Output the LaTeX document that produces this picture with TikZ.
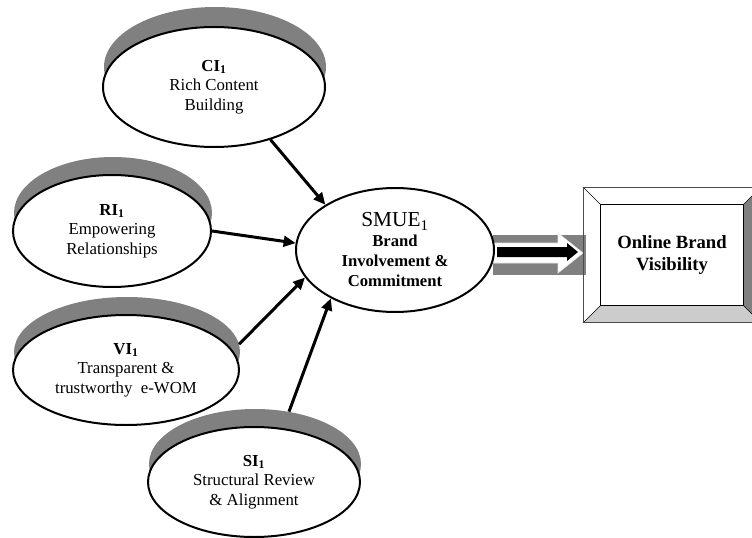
\documentclass[tikz,border=0pt]{standalone}
\usepackage{fontspec}
\setmainfont{Liberation Serif}
\usetikzlibrary{arrows.meta,shapes.geometric,calc}

\begin{document}
\begin{tikzpicture}[x=0.75pt,y=-0.75pt,
  factor/.style={draw,line width=1.5pt,shape=ellipse,fill=white,align=center,inner sep=0pt,font=\fontsize{12.6}{14.6}\selectfont},
  rim/.style={shape=ellipse,fill=black!50,inner sep=0pt},
  ellsize/.style 2 args={minimum width=#1*1.5pt,minimum height=#2*1.5pt},
  link/.style={line width=2.25pt,-{Triangle[length=9pt,width=8pt]}},
  bevel/.style={minimum width=132pt,minimum height=100.5pt,align=center,inner sep=0pt,font=\fontsize{14}{16.5}\selectfont}]
\useasboundingbox (0,0) rectangle (752,538);
% outer factors (shadow first, then the ellipse)
\node[rim,ellsize={111}{60}] (ci0) at (215,67) {};
\node[factor,ellsize={111}{60}] (ci) at (214,87) {\textbf{CI\textsubscript{1}}\\Rich Content\\Building};
\node[rim,ellsize={99}{56}] (ri0) at (113,213) {};
\node[factor,ellsize={99}{56}] (ri) at (112,231) {\textbf{RI\textsubscript{1}}\\Empowering\\Relationships};
\node[rim,ellsize={113}{55}] (vi0) at (127,352) {};
\node[factor,ellsize={113}{55}] (vi) at (126,370) {\textbf{VI\textsubscript{1}}\\Transparent \&\\trustworthy\ \ e-WOM};
\node[rim,ellsize={106}{55}] (si0) at (255,464) {};
\node[factor,ellsize={106}{55}] (si) at (254,482) {\textbf{SI\textsubscript{1}}\\Structural Review\\\& Alignment};
% band with the big arrow
\fill[black!50] (493,235) rectangle (586,275);
\filldraw[fill=white,draw=black!10] (493,243) -- (558,243) -- (558,233) -- (583,253) -- (558,273) -- (558,263) -- (493,263) -- cycle;
\fill[black] (497,247) -- (567,247) -- (567,243) -- (578,252) -- (567,261) -- (567,257) -- (497,257) -- cycle;
\node[factor,ellsize={99}{62},font=\fontsize{12.5}{15}\selectfont] (smue) at (395,250) {{\fontsize{16}{18}\selectfont SMUE\textsubscript{1}}\\\textbf{Brand}\\\textbf{Involvement \&}\\\textbf{Commitment}};
% bevelled box
\node[bevel] (obv) at (672,255) {\textbf{Online Brand}\\\textbf{Visibility}};
\coordinate (in1) at ($(obv.north west)+(17,17)$);
\coordinate (in2) at ($(obv.north east)+(-17,17)$);
\coordinate (in3) at ($(obv.south east)+(-17,-17)$);
\coordinate (in4) at ($(obv.south west)+(17,-17)$);
\fill[black!20] (obv.south west) -- (in4) -- (in3) -- (obv.south east) -- cycle;
\fill[black!50] (obv.north east) -- (in2) -- (in3) -- (obv.south east) -- cycle;
\draw[black!70,thin] (obv.north west) rectangle (obv.south east);
\draw[thin] (in1) rectangle (in3);
\draw[thin] (obv.north west) -- (in1) (obv.north east) -- (in2) (obv.south east) -- (in3) (obv.south west) -- (in4);
% paths into the hub
\draw[link] (ci.-43) -- (smue.147);
\draw[link] (ri.0) -- (smue.176);
\draw[link] (vi0.4) -- (smue.-163);
\draw[link] (si0.57) -- (smue.-143);
\end{tikzpicture}
\end{document}
